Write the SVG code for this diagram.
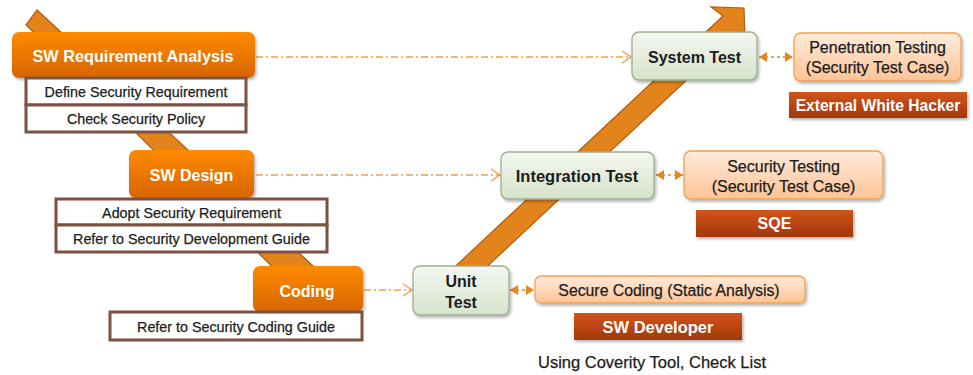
<svg xmlns="http://www.w3.org/2000/svg" width="973" height="375" viewBox="0 0 973 375">
<defs>
  <linearGradient id="gOr" x1="0" y1="0" x2="0" y2="1">
    <stop offset="0" stop-color="#FF8A05"/>
    <stop offset="1" stop-color="#D76500"/>
  </linearGradient>
  <linearGradient id="gGr" x1="0" y1="0" x2="0" y2="1">
    <stop offset="0" stop-color="#F4F7F0"/>
    <stop offset="1" stop-color="#D6E3CB"/>
  </linearGradient>
  <linearGradient id="gPe" x1="0" y1="0" x2="0" y2="1">
    <stop offset="0" stop-color="#FFEBDC"/>
    <stop offset="1" stop-color="#FFC395"/>
  </linearGradient>
  <linearGradient id="gBr" x1="0" y1="0" x2="0" y2="1">
    <stop offset="0" stop-color="#D2541A"/>
    <stop offset="1" stop-color="#A2380C"/>
  </linearGradient>
  <filter id="sh" x="-10%" y="-20%" width="125%" height="150%">
    <feDropShadow dx="1.5" dy="2" stdDeviation="1.5" flood-color="#000" flood-opacity="0.3"/>
  </filter>
  <marker id="open" markerUnits="userSpaceOnUse" markerWidth="12" markerHeight="14" refX="10" refY="7" orient="auto">
    <path d="M1,1 L10,7 L1,13" fill="none" stroke="#F0A050" stroke-width="1.4"/>
  </marker>
  <marker id="tri" markerUnits="userSpaceOnUse" markerWidth="10" markerHeight="10" refX="8" refY="5" orient="auto-start-reverse">
    <path d="M0,0 L8,5 L0,10 Z" fill="#E8861E"/>
  </marker>
  <style>
    .band{fill:#E3831C;stroke:#B05C0C;stroke-width:1.2;stroke-linejoin:miter}
    .or{fill:url(#gOr);filter:url(#sh)}
    .gr{fill:url(#gGr);stroke:#9DB08E;stroke-width:1.3;filter:url(#sh)}
    .pe{fill:url(#gPe);stroke:#F5A04E;stroke-width:1.3;filter:url(#sh)}
    .br{fill:url(#gBr);filter:url(#sh)}
    .wb{fill:#fff;stroke:#7C5242;stroke-width:3}
    text{font-family:"Liberation Sans",Arial,sans-serif;text-anchor:middle;dominant-baseline:central}
    .tw{fill:#fff;font-weight:bold;font-size:16px}
    .td{fill:#1c1c1c;font-size:14.3px;stroke:#1c1c1c;stroke-width:0.25}
    .tp{fill:#1c1c1c;font-size:16px;stroke:#1c1c1c;stroke-width:0.25}
    .tg{fill:#1c1c1c;font-weight:bold;font-size:16px}
    .dd{fill:none;stroke:#F0A050;stroke-width:1.4;stroke-dasharray:7 3 2 3}
    .bi{fill:none;stroke:#E8861E;stroke-width:1.6;stroke-dasharray:3 3}
  </style>
</defs>
<rect width="973" height="375" fill="#fff"/>

<g id="v-arrow">
  <polygon class="band" points="37,10 339,290 296,290 26,25"/>
  <polygon class="band" points="430,290 723,16 711,7 744,8 745,41 739,31 462,290"/>
</g>

<g id="connectors">
  <line class="dd" x1="256" y1="57" x2="631" y2="57" marker-end="url(#open)"/>
  <line class="dd" x1="256" y1="175" x2="500" y2="175" marker-end="url(#open)"/>
  <line class="dd" x1="364" y1="290" x2="412" y2="290" marker-end="url(#open)"/>
  <line class="bi" x1="759" y1="57" x2="793" y2="57" marker-start="url(#tri)" marker-end="url(#tri)"/>
  <line class="bi" x1="656" y1="175" x2="683" y2="175" marker-start="url(#tri)" marker-end="url(#tri)"/>
  <line class="bi" x1="510" y1="290" x2="534" y2="290" marker-start="url(#tri)" marker-end="url(#tri)"/>
</g>

<g id="sw-requirement-analysis">
  <rect class="or" x="12" y="32" width="243" height="46" rx="7"/>
  <text class="tw" x="133" y="56" style="font-size:16.3px">SW Requirement Analysis</text>
</g>
<g id="define-security-requirement">
  <rect class="wb" x="26" y="78" width="220" height="27"/>
  <text class="td" x="136" y="92">Define Security Requirement</text>
</g>
<g id="check-security-policy">
  <rect class="wb" x="26" y="105" width="220" height="27"/>
  <text class="td" x="136" y="118.5">Check Security Policy</text>
</g>

<g id="sw-design">
  <rect class="or" x="129" y="150" width="125" height="48" rx="7"/>
  <text class="tw" x="191.5" y="175">SW Design</text>
</g>
<g id="adopt-security-requirement">
  <rect class="wb" x="56" y="199" width="271" height="26"/>
  <text class="td" x="191.5" y="212.5">Adopt Security Requirement</text>
</g>
<g id="refer-security-development-guide">
  <rect class="wb" x="56" y="225" width="271" height="27"/>
  <text class="td" x="191.5" y="239">Refer to Security Development Guide</text>
</g>

<g id="coding">
  <rect class="or" x="253" y="266" width="110" height="46" rx="7"/>
  <text class="tw" x="307" y="291">Coding</text>
</g>
<g id="refer-security-coding-guide">
  <rect class="wb" x="110" y="312" width="252" height="28"/>
  <text class="td" x="236" y="326.5">Refer to Security Coding Guide</text>
</g>

<g id="system-test">
  <rect class="gr" x="632" y="32" width="125" height="48" rx="7"/>
  <text class="tg" x="694.5" y="57">System Test</text>
</g>
<g id="integration-test">
  <rect class="gr" x="501" y="152" width="153" height="47" rx="7"/>
  <text class="tg" x="577" y="176" style="font-size:16.5px">Integration Test</text>
</g>
<g id="unit-test">
  <rect class="gr" x="413" y="266" width="96" height="49" rx="7"/>
  <text class="tg" x="461" y="281">Unit</text>
  <text class="tg" x="461" y="302">Test</text>
</g>

<g id="penetration-testing">
  <rect class="pe" x="794" y="33" width="167" height="48" rx="7"/>
  <text class="tp" x="877.5" y="47">Penetration Testing</text>
  <text class="tp" x="877.5" y="67">(Security Test Case)</text>
</g>
<g id="external-white-hacker">
  <rect class="br" x="789" y="92" width="178" height="26"/>
  <text class="tw" x="878" y="105" style="font-size:15.6px">External White Hacker</text>
</g>

<g id="security-testing">
  <rect class="pe" x="684" y="151" width="199" height="48" rx="7"/>
  <text class="tp" x="783.5" y="166">Security Testing</text>
  <text class="tp" x="783.5" y="186">(Security Test Case)</text>
</g>
<g id="sqe">
  <rect class="br" x="696" y="210" width="157" height="27"/>
  <text class="tw" x="774.5" y="223.5">SQE</text>
</g>

<g id="secure-coding">
  <rect class="pe" x="535" y="276" width="270" height="27" rx="6"/>
  <text class="tp" x="669" y="290" style="font-size:15.8px">Secure Coding (Static Analysis)</text>
</g>
<g id="sw-developer">
  <rect class="br" x="574" y="313" width="168" height="27"/>
  <text class="tw" x="658" y="326.5" style="font-size:16.5px">SW Developer</text>
</g>

<g id="note">
  <text class="tp" x="652" y="362" style="font-size:16.5px">Using Coverity Tool, Check List</text>
</g>
</svg>
